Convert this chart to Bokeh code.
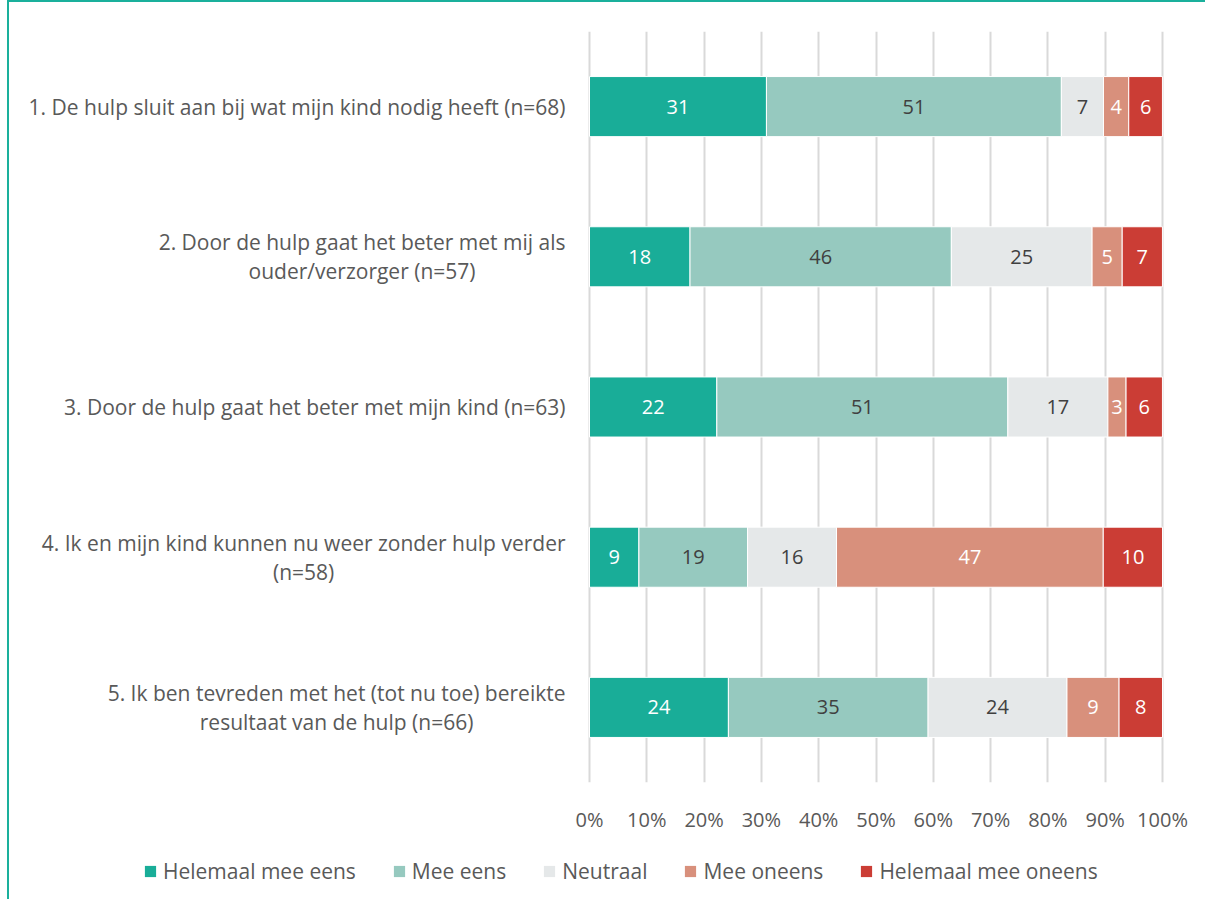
from bokeh.plotting import figure
from bokeh.layouts import column
from bokeh.models import (FactorRange, Range1d, FixedTicker, PrintfTickFormatter,
                          Legend, LegendItem, ColumnDataSource)
from bokeh.core.properties import value
from bokeh.embed import file_html
from bokeh.resources import INLINE
import numpy as np

# ---------------- data ----------------
statements = [
    "1. De hulp sluit aan bij wat mijn kind nodig heeft (n=68)",
    "2. Door de hulp gaat het beter met mij als\nouder/verzorger (n=57)",
    "3. Door de hulp gaat het beter met mijn kind (n=63)",
    "4. Ik en mijn kind kunnen nu weer zonder hulp verder\n(n=58)",
    "5. Ik ben tevreden met het (tot nu toe) bereikte\nresultaat van de hulp (n=66)",
]
levels = ["Helemaal mee eens", "Mee eens", "Neutraal", "Mee oneens", "Helemaal mee oneens"]

helemaal_mee_eens = [30.88, 17.54, 22.22, 8.62, 24.24]
mee_eens = [51.47, 45.61, 50.79, 18.97, 34.85]
neutraal = [7.35, 24.56, 17.46, 15.52, 24.24]
mee_oneens = [4.41, 5.26, 3.17, 46.55, 9.09]
helemaal_mee_oneens = [5.88, 7.02, 6.35, 10.34, 7.58]

x_ticks = [0, 10, 20, 30, 40, 50, 60, 70, 80, 90, 100]

# ---------------- style ----------------
FONT = "Open Sans"
FS = "20px"
FS_CAT = "21px"
colors = ["#19ad98", "#96c9bf", "#e5e8e9", "#d8907c", "#cb3d35"]
label_colors = ["#ffffff", "#404040", "#404040", "#ffffff", "#ffffff"]
TEXT_GRAY = "#595959"
BORDER = "#1ab09c"

FIG_W = 1196
MAIN_H = 833
LEG_H = 64
PX_PER_PCT = 5.73
ZERO_PX = 580           # position of 0% from figure's left edge
x_start = -ZERO_PX / PX_PER_PCT
x_end = (FIG_W - ZERO_PX) / PX_PER_PCT

p = figure(width=FIG_W, height=MAIN_H,
           y_range=FactorRange(factors=statements[::-1], range_padding=0),
           x_range=Range1d(x_start, x_end),
           output_backend="svg", toolbar_location=None,
           min_border_left=0, min_border_right=0,
           min_border_top=29, min_border_bottom=50)
p.outline_line_color = None
p.background_fill_color = "white"
p.border_fill_color = "white"

p.yaxis.visible = False
p.ygrid.visible = False
p.xgrid.ticker = FixedTicker(ticks=x_ticks)
p.xgrid.grid_line_color = "#d9d9d9"
p.xgrid.grid_line_width = 2

p.xaxis.ticker = FixedTicker(ticks=x_ticks)
p.xaxis.formatter = PrintfTickFormatter(format="%d%%")
p.xaxis.axis_line_color = None
p.xaxis.major_tick_line_color = None
p.xaxis.minor_tick_line_color = None
p.xaxis.major_label_standoff = 17
p.xaxis.major_label_text_font = FONT
p.xaxis.major_label_text_font_size = FS
p.xaxis.major_label_text_color = TEXT_GRAY

# legend-only figure below the chart
pl = figure(width=FIG_W, height=LEG_H, x_range=Range1d(0, 1), y_range=Range1d(0, 1),
            output_backend="svg", toolbar_location=None,
            min_border_left=0, min_border_right=0, min_border_top=0, min_border_bottom=0)
pl.outline_line_color = None
pl.axis.visible = False
pl.grid.visible = False
pl.border_fill_color = "white"

series = [helemaal_mee_eens, mee_eens, neutraal, mee_oneens, helemaal_mee_oneens]
cum = np.zeros(len(statements))
items = []
for i, (lvl, vals) in enumerate(zip(levels, series)):
    vals = np.array(vals, dtype=float)
    left = cum.copy()
    right = cum + vals
    cum = right
    src = ColumnDataSource(dict(y=statements, left=left, right=right,
                                mid=(left + right) / 2,
                                lab=[str(int(round(v))) for v in vals]))
    p.hbar(y="y", left="left", right="right", height=0.4, source=src,
           fill_color=colors[i], line_color="white", line_width=1)
    p.text(x="mid", y="y", text="lab", source=src, text_align="center",
           text_baseline="middle", text_color=label_colors[i],
           text_font=value(FONT), text_font_size=FS)
    # legend swatch renderer: a zero-size bar, only its style is used by the legend
    lr = pl.hbar(y=[0], left=[0], right=[0], height=0, fill_color=colors[i], line_color=None)
    items.append(LegendItem(label=lvl, renderers=[lr]))

# category labels
p.text(x=[0] * len(statements), y=statements, text=statements, x_offset=-24,
       anchor="center_right", text_align="center", text_baseline="middle",
       text_color=TEXT_GRAY, text_font=value(FONT), text_font_size=FS_CAT,
       text_line_height=1.04)

legend = Legend(items=items, orientation="horizontal", location=(134, 14),
                padding=0, margin=0, spacing=36, label_standoff=6,
                glyph_width=14, glyph_height=14,
                label_text_font=FONT, label_text_font_size=FS_CAT,
                label_text_color=TEXT_GRAY,
                border_line_color=None, background_fill_alpha=0)
pl.add_layout(legend)

layout = column(p, pl, spacing=0)
layout.styles = {"border-top": f"2px solid {BORDER}", "border-left": f"2px solid {BORDER}",
                 "transform": "translate(7px, 0px)",
                 "background-color": "white"}

open("out.html", "w").write(file_html(layout, INLINE))
